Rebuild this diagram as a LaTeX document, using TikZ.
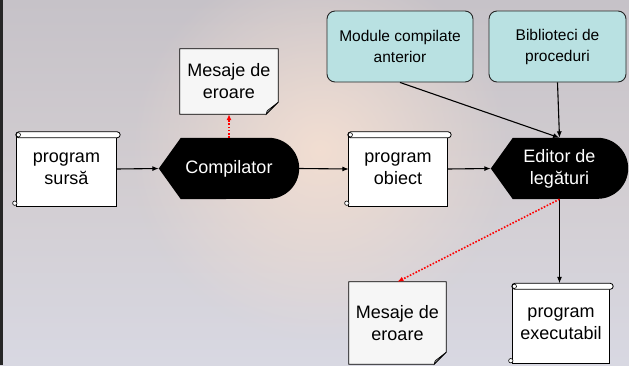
\documentclass[tikz,border=0pt]{standalone}
\usepackage{fontspec}
\setmainfont{Liberation Sans}
\usetikzlibrary{arrows.meta,calc,fadings}
\pgfdeclarelayer{back}
\pgfdeclarelayer{mid}
\pgfsetlayers{back,mid,main}
\definecolor{bgtop}{RGB}{198,194,200}
\definecolor{bgmid}{RGB}{210,205,209}
\definecolor{bgbot}{RGB}{216,216,226}
\definecolor{glow}{RGB}{242,222,210}
\definecolor{cyanbox}{RGB}{185,225,226}
\definecolor{docfill}{RGB}{246,246,246}
\definecolor{errred}{RGB}{255,0,0}

\tikzfading[name=softglow, inner color=transparent!0, outer color=transparent!100]

\tikzset{
  slot/.style={rectangle, inner sep=0pt, draw=none, align=center,
    font=\fontsize{18}{22}\selectfont},
  proc/.style={slot, text=white},
  source/.style={rectangle, rounded corners=8pt, draw=black!85, line width=0.9pt,
    fill=cyanbox, align=center, inner sep=0pt, font=\fontsize{15.5}{21}\selectfont},
  flow/.style={line width=1.1pt, -{Latex[length=6.5pt,width=5pt]}},
  errflow/.style={line width=1.6pt, errred, dash pattern=on 1.6pt off 1.6pt,
    -{Latex[length=6pt,width=5pt]}},
}

% scroll (program file) drawn round a node
\newcommand\scrollshape[1]{%
  \filldraw[fill=white, line width=0.8pt]
    ([yshift=-3pt]#1.north west) rectangle (#1.south east);
  \filldraw[fill=white, line width=0.8pt, rounded corners=3pt]
    ([xshift=-1pt]#1.north west) rectangle ([xshift=4pt,yshift=-6pt]#1.north east);
  \draw[line width=0.6pt] ([xshift=1.5pt,yshift=-3pt]#1.north west) circle[radius=2.2pt];
  \filldraw[fill=white, line width=0.6pt] ([xshift=-2pt,yshift=3pt]#1.south west) circle[radius=2.2pt];
}
% display shape (pointed left, round right) drawn round a node
\newcommand\dispshape[1]{%
  \fill[black] (#1.west) -- ([xshift=22pt]#1.north west)
    -- ([xshift=-30.5pt]#1.north east) arc[start angle=90, end angle=-90, radius=30.5pt]
    -- ([xshift=22pt]#1.south west) -- cycle;
}
% document with a folded corner drawn round a node
\newcommand\docshape[1]{%
  \filldraw[fill=docfill, line width=0.8pt] (#1.north west) -- (#1.north east)
    -- ([yshift=12pt]#1.south east) -- ([xshift=-12pt]#1.south east)
    -- (#1.south west) -- cycle;
  \filldraw[fill=black!35, line width=0.6pt] ([yshift=12pt]#1.south east)
    -- ([xshift=-12pt]#1.south east)
    .. controls ([xshift=-11pt,yshift=4pt]#1.south east) .. ([xshift=-9pt,yshift=5pt]#1.south east)
    -- cycle;
}

\begin{document}
\begin{tikzpicture}[x=1pt, y=-1pt]
\useasboundingbox (0,0) rectangle (629,365);

% backdrop
\begin{pgfonlayer}{back}
  \shade[top color=bgtop, bottom color=bgmid] (0,0) rectangle (629,180);
  \shade[top color=bgmid, bottom color=bgbot] (0,180) rectangle (629,365);
  \fill[glow, path fading=softglow] (320,150) circle[radius=190pt];
  \fill[black!85] (0,0) rectangle (3,365);
\end{pgfonlayer}

% nodes
\node[slot, minimum width=99pt, minimum height=74pt] (src) at (66.5,169) {program\\sursă};
\node[proc, minimum width=140pt, minimum height=61pt] (comp) at (229,168.5) {Compilator};
\node[slot, minimum width=98pt, minimum height=65pt] (err1) at (229,81.5) {Mesaje de\\eroare};
\node[slot, minimum width=98pt, minimum height=74pt] (obj) at (398,169) {program\\obiect};
\node[proc, minimum width=137pt, minimum height=61pt] (edit) at (559.5,168.5) {Editor de\\legături};
\node[source, minimum width=146pt, minimum height=71pt] (mod) at (400,46.5) {Module compilate\\anterior};
\node[source, minimum width=137pt, minimum height=71pt] (lib) at (557.5,46.5) {Biblioteci de\\proceduri};
\node[slot, minimum width=97pt, minimum height=82pt] (err2) at (397.5,323) {Mesaje de\\eroare};
\node[slot, minimum width=96pt, minimum height=80pt] (exe) at (561,323.5) {program\\executabil};

% outlines behind the texts
\begin{pgfonlayer}{mid}
  \scrollshape{src}
  \scrollshape{obj}
  \scrollshape{exe}
  \dispshape{comp}
  \dispshape{edit}
  \docshape{err1}
  \docshape{err2}
\end{pgfonlayer}

% connectors
\draw[flow] (src.east) -- (comp.west);
\draw[flow] (comp.east) -- (obj.west);
\draw[flow] (obj.east) -- (edit.west);
\draw[flow] (mod.south) -- (edit.north);
\draw[flow] (lib.south) -- (edit.north);
\draw[flow] (edit.south) -- (edit.south |- exe.north);
\draw[errflow] (comp.north) -- (err1.south);
\draw[errflow] (edit.south) -- (err2.north);
\end{tikzpicture}
\end{document}
